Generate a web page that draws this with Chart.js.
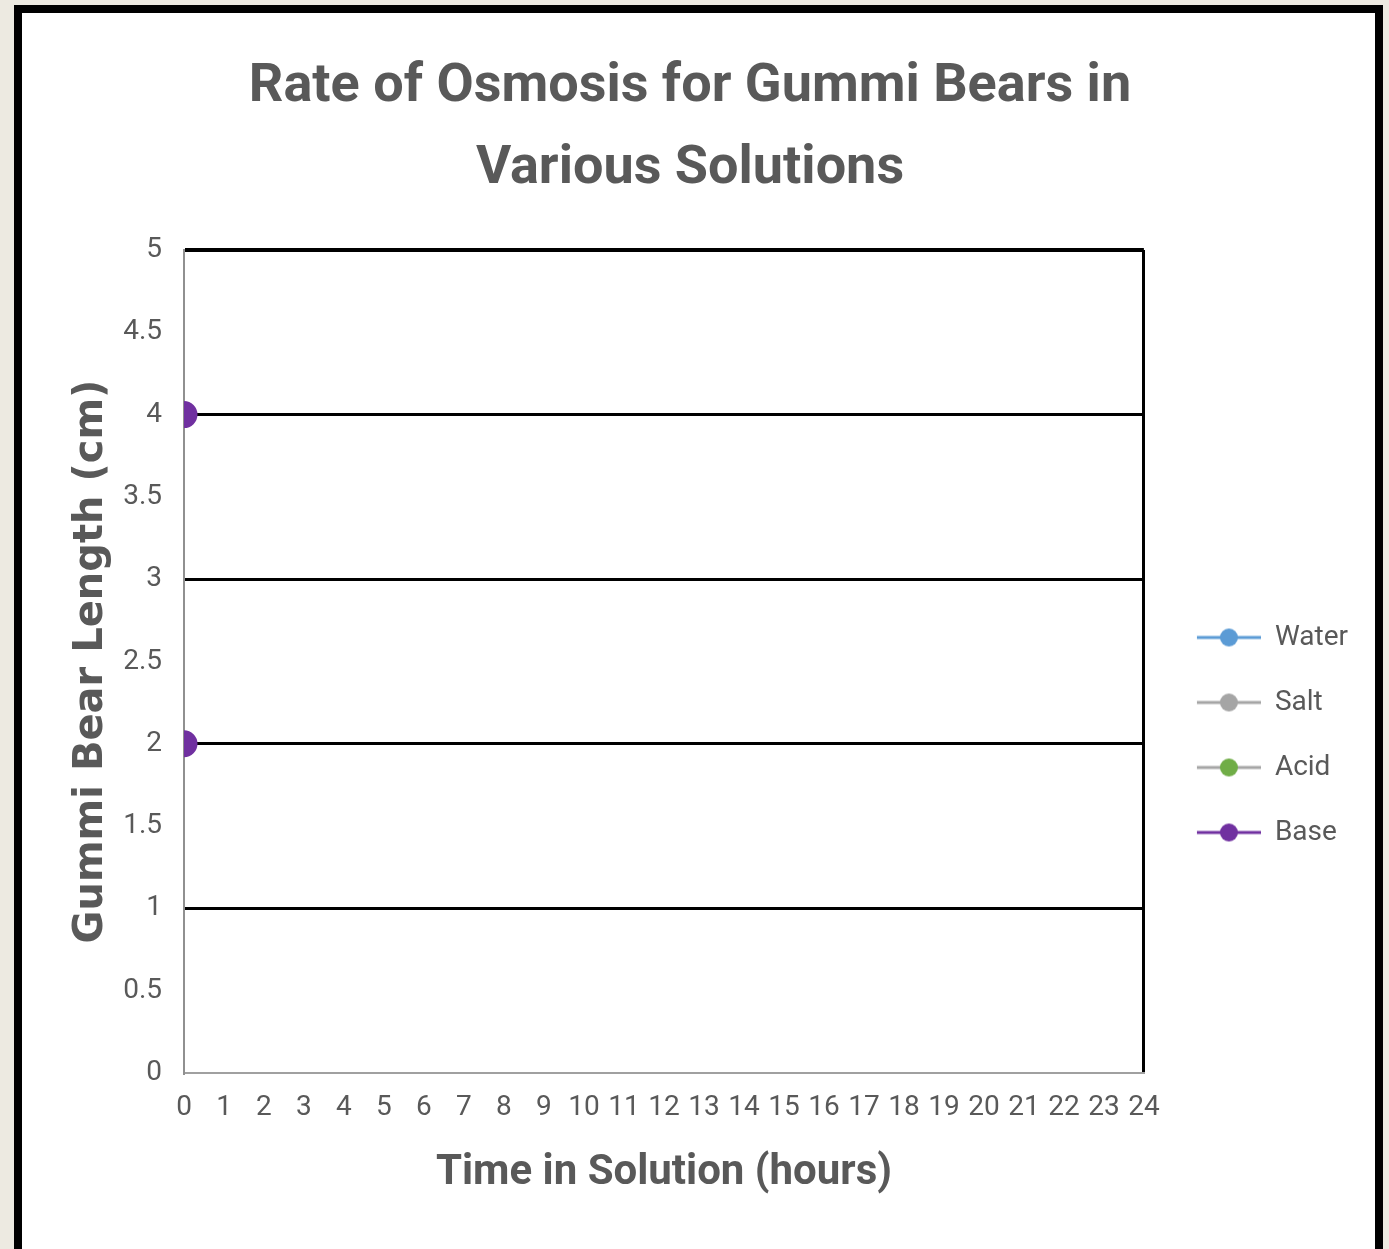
<!DOCTYPE html>
<html>
<head>
<meta charset="utf-8">
<script src="https://cdn.jsdelivr.net/npm/chart.js@4.4.1/dist/chart.umd.min.js"></script>
<style>
  html, body { margin: 0; padding: 0; background: #edeae1; overflow: hidden; }
  #frame {
    position: absolute; left: 14px; top: 5px;
    width: 1353px; height: 1240px;
    border: 8px solid #000; border-bottom: none;
    background: #fff;
  }
  canvas { display: block; }
</style>
</head>
<body>
<div id="frame"><canvas id="chart" width="1353" height="1236"></canvas></div>
<script>
// ==============================
// DATA
// ==============================
const hours = ["0","1","2","3","4","5","6","7","8","9","10","11","12","13","14","15","16","17","18","19","20","21","22","23","24"];
const seriesNames = ["Water", "Salt", "Acid", "Base"];
const lineColors = ["#5b9bd5", "#a5a5a5", "#a5a5a5", "#7030a0"];
const dotColors = ["#5b9bd5", "#a5a5a5", "#70ad47", "#7030a0"];
const waterValues = [];
const saltValues = [];
const acidValues = [];
const baseValues = [{ x: "0", y: 4 }, { x: "0", y: 2 }];

const FONT = "Roboto, 'Open Sans', sans-serif";
const GREY = "#595959";

// line+dot glyph for the legend (blank lead-in on the left gives the gap)
function legendGlyph(line, dot) {
  const c = document.createElement("canvas");
  c.width = 80; c.height = 20;
  const g = c.getContext("2d");
  g.strokeStyle = line; g.lineWidth = 3;
  g.beginPath(); g.moveTo(16, 10); g.lineTo(80, 10); g.stroke();
  g.fillStyle = dot;
  g.beginPath(); g.arc(48, 10, 9, 0, Math.PI * 2); g.fill();
  return c;
}

const allValues = [waterValues, saltValues, acidValues, baseValues];
const datasets = seriesNames.map((name, i) => ({
  label: name,
  data: allValues[i],
  borderColor: lineColors[i],
  backgroundColor: dotColors[i],
  pointBackgroundColor: dotColors[i],
  pointBorderColor: dotColors[i],
  pointRadius: 12,
  borderWidth: 3,
  showLine: false,
  clip: 0
}));

new Chart(document.getElementById("chart").getContext("2d"), {
  type: "line",
  data: { labels: hours, datasets },
  options: {
    responsive: false,
    animation: false,
    layout: { padding: { left: 0, right: 17, top: 0, bottom: 0 } },
    plugins: {
      title: {
        display: true,
        text: ["Rate of Osmosis for Gummi Bears in", "Various Solutions"],
        color: GREY,
        font: { family: FONT, size: 54, weight: "bold", lineHeight: 82 / 54 },
        padding: { top: 33, bottom: 40 }
      },
      legend: {
        position: "right",
        align: "center",
        title: { display: true, text: " ", padding: { top: 196, bottom: 0 }, font: { size: 10 } },
        labels: {
          usePointStyle: true,
          pointStyleWidth: 80,
          padding: 37,
          color: GREY,
          font: { family: FONT, size: 28 },
          generateLabels: (chart) => chart.data.datasets.map((ds, i) => ({
            text: ds.label,
            pointStyle: legendGlyph(lineColors[i], dotColors[i]),
            fontColor: GREY,
            lineWidth: 0,
            strokeStyle: "transparent",
            fillStyle: "transparent",
            datasetIndex: i
          }))
        }
      },
      tooltip: { enabled: false }
    },
    scales: {
      x: {
        offset: false,
        afterFit: (s) => { s.height = 176; },
        grid: {
          drawTicks: false,
          color: (c) => c.index === hours.length - 1 ? "#000" : "transparent",
          lineWidth: 3
        },
        border: { color: "#a0a0a0", width: 2 },
        ticks: {
          autoSkip: false, maxRotation: 0, padding: 18,
          color: GREY, font: { family: FONT, size: 28 }
        },
        title: {
          display: true,
          text: "Time in Solution (hours)",
          color: GREY,
          font: { family: FONT, size: 42, weight: "bold" },
          padding: { top: 0, bottom: 50 }
        }
      },
      y: {
        min: 0, max: 5,
        afterFit: (s) => { s.width = 162; },
        grid: {
          drawTicks: false,
          color: (c) => {
            const v = c.tick.value;
            if (v === 0) return "transparent";
            return v % 1 === 0 ? "#000" : "transparent";
          },
          lineWidth: (c) => c.tick.value === 5 ? 4 : 3
        },
        border: { color: "#909090", width: 2 },
        ticks: {
          stepSize: 0.5, padding: 22,
          color: GREY, font: { family: FONT, size: 28 },
          callback: (v) => String(v)
        },
        title: {
          display: true,
          text: "Gummi Bear Length (cm)",
          color: GREY,
          font: { family: "'DejaVu Sans', sans-serif", size: 40, weight: "bold" },
          padding: { top: 46, bottom: 0 }
        }
      }
    }
  }
});
</script>
</body>
</html>
